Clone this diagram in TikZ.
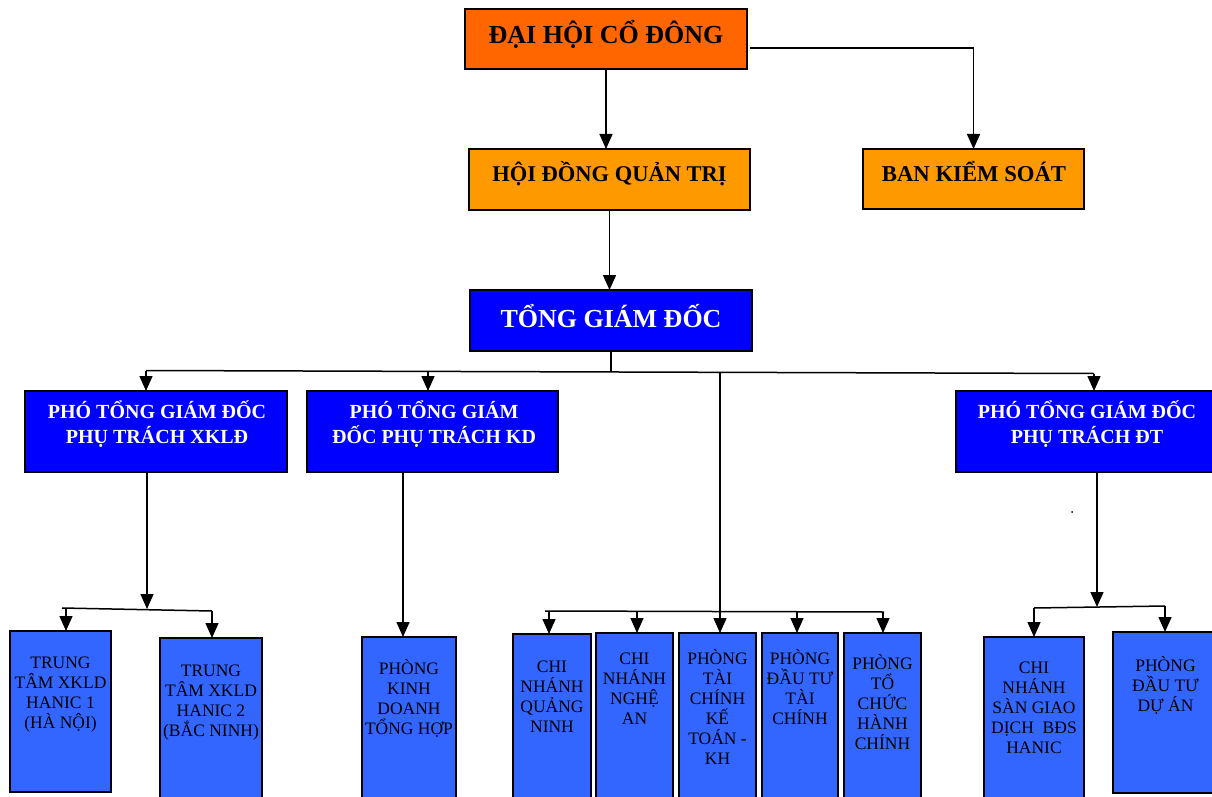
\documentclass[tikz,border=0pt]{standalone}
\usepackage{fontspec}
\setmainfont{Liberation Serif}
\usetikzlibrary{arrows.meta}
\definecolor{cOrange}{HTML}{FF6600}
\definecolor{cAmber}{HTML}{FF9900}
\definecolor{cBlue}{HTML}{0000FF}
\definecolor{cLight}{HTML}{3366FF}
\newcommand\lowfont{\fontsize{17.5}{20}\selectfont\lineskiplimit=-20pt\relax}
\begin{document}
\begin{tikzpicture}[x=1pt,y=-1pt,
 box/.style={draw=black,line width=1.8pt,inner sep=0pt,outer sep=0pt,anchor=north west},
 ln/.style={line width=1.5pt},
 arr/.style={line width=1.5pt,-{Triangle[width=13pt,length=15pt]}},
 hdr/.style={anchor=base,inner sep=0pt,align=center},
 small/.style={anchor=base,align=center,inner sep=0pt,font=\lowfont},
]
\useasboundingbox (0,0) rectangle (1212,797);
\clip (0,0) rectangle (1212,797);
% top level
\node[box,fill=cOrange,minimum width=282pt,minimum height=60pt] (dh) at (465,9) {};
\node[hdr,font=\fontsize{26}{30}\selectfont\bfseries] (dht) at (606,44) {ĐẠI HỘI CỔ ĐÔNG};
\node[box,fill=cAmber,minimum width=281pt,minimum height=61pt] (hd) at (469,149) {};
\node[hdr,font=\fontsize{22.5}{26}\selectfont\bfseries] (hdt) at (609.5,181) {HỘI ĐỒNG QUẢN TRỊ};
\node[box,fill=cAmber,minimum width=221pt,minimum height=60pt] (bks) at (863,149) {};
\node[hdr,font=\fontsize{22.7}{26}\selectfont\bfseries] (bkst) at (974,181) {BAN KIỂM SOÁT};
\node[box,fill=cBlue,minimum width=282pt,minimum height=61pt] (tgd) at (470,290) {};
\node[hdr,text=white,font=\fontsize{26}{30}\selectfont\bfseries] (tgdt) at (611,327) {TỔNG GIÁM ĐỐC};
% deputies (base anchor = last line)
\node[box,fill=cBlue,minimum width=262pt,minimum height=81pt] (pxk) at (25,391) {};
\node[hdr,text=white,font=\fontsize{20}{25}\selectfont\bfseries] (pxkt) at (157,443) {PHÓ TỔNG GIÁM ĐỐC\\PHỤ TRÁCH XKLĐ};
\node[box,fill=cBlue,minimum width=251pt,minimum height=81pt] (pkd) at (307,391) {};
\node[hdr,text=white,font=\fontsize{20}{25}\selectfont\bfseries] (pkdt) at (434,443) {PHÓ TỔNG GIÁM\\ĐỐC PHỤ TRÁCH KD};
\node[box,fill=cBlue,minimum width=262pt,minimum height=81pt] (pdt) at (956,391) {};
\node[hdr,text=white,font=\fontsize{20}{25}\selectfont\bfseries] (pdtt) at (1087,443) {PHÓ TỔNG GIÁM ĐỐC\\PHỤ TRÁCH ĐT};
% lower boxes
\node[box,fill=cLight,minimum width=101pt,minimum height=161pt] (b1) at (10,631) {};
\node[small] (b1t) at (60.5,728) {TRUNG\\TÂM XKLD\\HANIC 1\\(HÀ NỘI)};
\node[box,fill=cLight,minimum width=102pt,minimum height=170pt] (b2) at (160,638) {};
\node[small] (b2t) at (211,736) {TRUNG\\TÂM XKLD\\HANIC 2\\(BẮC NINH)};
\node[box,fill=cLight,minimum width=94pt,minimum height=170pt] (pk) at (362,637) {};
\node[small] (pkt) at (409,734) {PHÒNG\\KINH\\DOANH\\TỔNG HỢP};
\node[box,fill=cLight,minimum width=78pt,minimum height=170pt] (qn) at (513,634) {};
\node[small] (qnt) at (552,732) {CHI\\NHÁNH\\QUẢNG\\NINH};
\node[box,fill=cLight,minimum width=77pt,minimum height=170pt] (na) at (596,633) {};
\node[small] (nat) at (634.5,724) {CHI\\NHÁNH\\NGHỆ\\AN};
\node[box,fill=cLight,minimum width=77pt,minimum height=170pt] (tc) at (679,633) {};
\node[small] (tct) at (717.5,764) {PHÒNG\\TÀI\\CHÍNH\\KẾ\\TOÁN -\\KH};
\node[box,fill=cLight,minimum width=76pt,minimum height=170pt] (dtc) at (762,633) {};
\node[small] (dtct) at (800,724) {PHÒNG\\ĐẦU TƯ\\TÀI\\CHÍNH};
\node[box,fill=cLight,minimum width=77pt,minimum height=170pt] (tchc) at (844,633) {};
\node[small] (tchct) at (882.5,749) {PHÒNG\\TỔ\\CHỨC\\HÀNH\\CHÍNH};
\node[box,fill=cLight,minimum width=100pt,minimum height=170pt] (san) at (984,637) {};
\node[small] (sant) at (1034,753) {CHI\\NHÁNH\\SÀN GIAO\\DỊCH~~BĐS\\HANIC};
\node[box,fill=cLight,minimum width=105pt,minimum height=161pt] (dtda) at (1113,632) {};
\node[small] (dtdat) at (1165.5,711) {PHÒNG\\ĐẦU TƯ\\DỰ ÁN};
% connectors top
\draw[arr] (dh.south) -- (dh.south |- hd.north);
\coordinate (dhR) at (750,48);
\draw[arr] (dhR) -| (bks.north);
\draw[arr] (hd.south) -- (hd.south |- tgd.north);
% main bus
\coordinate (j0) at (611,371.5);
\coordinate (bL) at (146,370.5);
\coordinate (bK) at (428,371.5);
\coordinate (bM) at (720,372);
\coordinate (bR) at (1094,373.5);
\draw[ln] (tgd.south) -- (j0);
\draw[ln] (bL) -- (bR);
\draw[arr] (bL) -- (bL |- pxk.north);
\draw[arr] (bK) -- (bK |- pkd.north);
\draw[arr] (bR) -- (bR |- pdt.north);
\draw[arr] (bM) -- (bM |- tc.north);
% XKLD branch
\coordinate (xk) at (147,609);
\coordinate (xkL) at (62,608);
\coordinate (xkR) at (212,611);
\coordinate (x1) at (66,608.2);
\draw[arr] (xk |- pxk.south) -- (xk);
\draw[ln] (xkL) -- (xkR);
\draw[arr] (x1) -- (x1 |- b1.north);
\draw[arr] (xkR) -- (xkR |- b2.north);
% KD branch
\coordinate (kd) at (403,472);
\draw[arr] (kd) -- (kd |- pk.north);
% middle bus
\coordinate (mL) at (545,611);
\coordinate (mR) at (884,612);
\coordinate (m1) at (549,611);
\coordinate (m2) at (637,611.3);
\coordinate (m4) at (797,611.7);
\coordinate (m5) at (883,612);
\draw[ln] (mL) -- (mR);
\draw[arr] (m1) -- (m1 |- qn.north);
\draw[arr] (m2) -- (m2 |- na.north);
\draw[arr] (m4) -- (m4 |- dtc.north);
\draw[arr] (m5) -- (m5 |- tchc.north);
% DT branch
\coordinate (dt) at (1097,607);
\coordinate (dL) at (1034,608);
\coordinate (dR) at (1165,606);
\draw[arr] (dt |- pdt.south) -- (dt);
\draw[ln] (dL) -- (dR);
\draw[arr] (dL) -- (dL |- san.north);
\draw[arr] (dR) -- (dR |- dtda.north);
\fill (1072,512) circle (1);
\end{tikzpicture}
\end{document}
